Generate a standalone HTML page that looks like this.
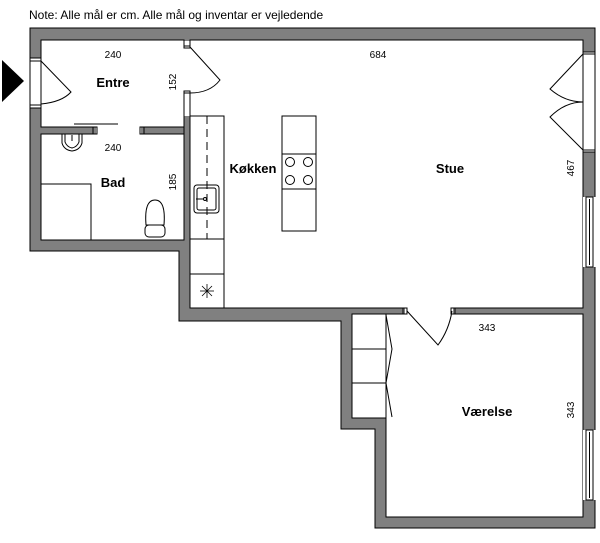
<!DOCTYPE html>
<html><head><style>
body{margin:0;background:#fff;width:600px;height:538px;overflow:hidden}
svg text{font-family:"Liberation Sans",sans-serif}
</style></head><body>
<svg width="600" height="538" viewBox="0 0 600 538" xmlns="http://www.w3.org/2000/svg">
<text x="29" y="19" font-size="12" fill="#000">Note: Alle mål er cm. Alle mål og inventar er vejledende</text>
<polygon points="2,60 24,81 2,102" fill="#000"/>
<!-- walls -->
<polygon points="30,28 595,28 595,528 375,528 375,429 341,429 341,321 179,321 179,251 30,251" fill="#808080" stroke="#000" stroke-width="1"/>
<g fill="#fff" stroke="#000" stroke-width="1">
<rect x="41" y="40" width="143" height="87"/>
<rect x="41" y="134" width="143" height="106"/>
<rect x="190" y="40" width="393" height="268"/>
<polygon points="352,314 583,314 583,517 386,517 386,418 352,418"/>
</g>
<g fill="#fff">
<!-- openings -->
<rect x="30" y="58" width="12" height="50"/>
<rect x="183" y="46" width="8" height="47"/>
<rect x="96" y="126" width="45" height="9"/>
<rect x="182" y="41" width="9" height="75"/>
<rect x="405" y="307" width="48" height="8"/>
<rect x="583" y="52" width="13" height="100"/>
<rect x="583" y="197" width="13" height="70"/>
<rect x="583" y="430" width="13" height="70"/>
</g>
<g fill="none" stroke="#000" stroke-width="1">
<!-- thin entre wall -->
<line x1="184" y1="40" x2="184" y2="46"/><line x1="190" y1="40" x2="190" y2="46"/>
<line x1="184" y1="93" x2="184" y2="127"/><line x1="190" y1="93" x2="190" y2="116"/>
<rect x="184" y="46" width="6" height="2"/>
<rect x="184" y="91" width="6" height="2"/>
<line x1="184" y1="127" x2="184" y2="240"/>
<line x1="190" y1="116" x2="190" y2="308"/>
<!-- entry door -->
<rect x="30" y="58" width="11" height="3"/><rect x="30" y="105" width="11" height="3"/>
<line x1="30" y1="58" x2="30" y2="108"/><line x1="41" y1="61" x2="41" y2="105"/>
<path d="M41,61 L71,92 Q62,102 41,104"/>
<!-- entre right door -->
<path d="M190,47 L220,80 Q210,93 190,93"/>
<!-- bad/entre wall ends -->
<rect x="93" y="127" width="4" height="7"/><rect x="140" y="127" width="4" height="7"/>
<line x1="74" y1="124" x2="118" y2="124"/>
<!-- bath -->
<rect x="41" y="184" width="50" height="56"/>
<!-- sink bad -->
<path d="M62,134 L62,143 Q64,150 72,151 Q80,150 82,143 L82,134"/>
<path d="M65,134 L65,142 Q67,147 72,148 Q77,147 79,142 L79,134"/>
<line x1="72" y1="135" x2="72" y2="141"/>
<!-- toilet -->
<path d="M146,225 Q144,200 155,200 Q166,200 164,225 Z"/>
<rect x="145" y="225" width="20" height="12" rx="4"/>
<!-- kitchen counter -->
<rect x="190" y="116" width="34" height="192"/>
<line x1="190" y1="239" x2="224" y2="239"/><line x1="190" y1="274" x2="224" y2="274"/>
<line x1="207" y1="116" x2="207" y2="239" stroke-dasharray="8,5"/>
<rect x="194" y="185" width="25" height="28" rx="3"/>
<rect x="197" y="188" width="19" height="22" rx="2"/>
<circle cx="205" cy="199" r="1.5"/><line x1="196" y1="199" x2="203" y2="199"/>
<g stroke-width="0.8"><line x1="200" y1="291" x2="214" y2="291"/><line x1="207" y1="284" x2="207" y2="298"/><line x1="202" y1="286" x2="212" y2="296"/><line x1="212" y1="286" x2="202" y2="296"/></g>
<!-- island -->
<rect x="282" y="116" width="34" height="115"/>
<line x1="282" y1="154" x2="316" y2="154"/><line x1="282" y1="189" x2="316" y2="189"/>
<circle cx="290" cy="162" r="4.5"/><circle cx="308" cy="162" r="4.5"/>
<circle cx="290" cy="180" r="4.5"/><circle cx="308" cy="180" r="4.5"/>
<!-- right double door -->
<line x1="583" y1="52" x2="583" y2="152"/><line x1="595" y1="52" x2="595" y2="152"/>
<rect x="583" y="52" width="12" height="2"/><rect x="583" y="150" width="12" height="2"/>
<path d="M583,54 L550,89 Q565,102 583,102"/>
<path d="M583,150 L550,117 Q565,102 583,102"/>
<!-- windows -->
<rect x="586" y="197" width="7" height="70"/><line x1="589.5" y1="199" x2="589.5" y2="265"/>
<rect x="586" y="430" width="7" height="70"/><line x1="589.5" y1="432" x2="589.5" y2="498"/>
<!-- Værelse door -->
<rect x="403" y="308" width="4" height="6"/><rect x="451" y="308" width="4" height="6"/>
<path d="M407,311 L438,345 Q449,330 452,311"/>
<!-- closet -->
<rect x="352" y="314" width="34" height="104"/>
<line x1="352" y1="349" x2="386" y2="349"/><line x1="352" y1="383" x2="386" y2="383"/>
<path d="M386,315 L392,349 L386,383 L392,417"/>
</g>
<g font-size="10" fill="#000" text-anchor="middle">
<text x="113" y="58">240</text>
<text x="113" y="151">240</text>
<text x="378" y="58">684</text>
<text x="487" y="331">343</text>
<text transform="translate(176,82) rotate(-90)">152</text>
<text transform="translate(176,182) rotate(-90)">185</text>
<text transform="translate(574,168) rotate(-90)">467</text>
<text transform="translate(574,410) rotate(-90)">343</text>
</g>
<g font-size="13" font-weight="bold" fill="#000" text-anchor="middle">
<text x="113" y="87">Entre</text>
<text x="113" y="187">Bad</text>
<text x="253" y="173">Køkken</text>
<text x="450" y="173">Stue</text>
<text x="487" y="416">Værelse</text>
</g>
</svg>
</body></html>
